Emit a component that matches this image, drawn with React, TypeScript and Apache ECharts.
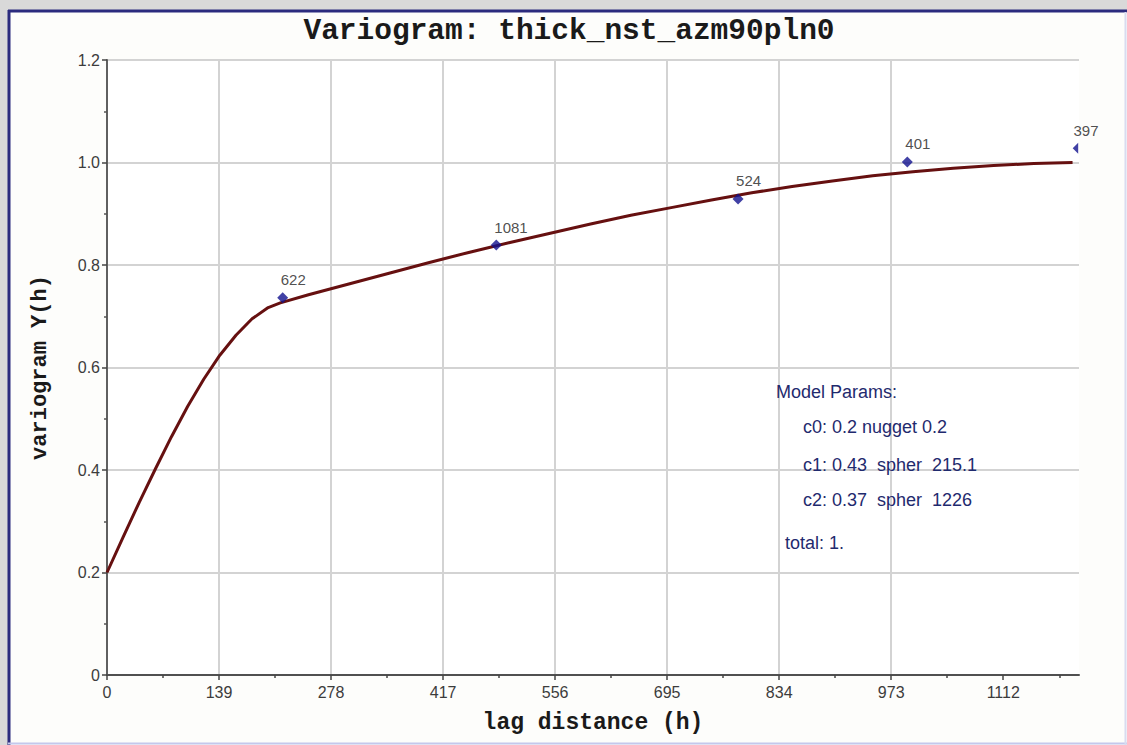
import React, { useEffect, useRef } from "react";
import * as echarts from "echarts";

const titleText = "Variogram: thick_nst_azm90pln0";
const xName = "lag distance (h)";
const yName = "variogram Y(h)";

const xTicks = [0, 139, 278, 417, 556, 695, 834, 973, 1112];
const xMinorTicks = [69.5, 208.5, 347.5, 486.5, 625.5, 764.5, 903.5, 1042.5, 1181.5];
const xMax = 1206;
const yMax = 1.2;
const yInterval = 0.2;

// model curve
const curveLag = [0, 20, 40, 60, 80, 100, 120, 140, 160, 180, 200, 215, 250, 300, 350, 400, 450, 500, 550, 600, 650, 700, 750, 800, 850, 900, 950, 1000, 1050, 1100, 1150, 1198];
const curveGamma = [0.2, 0.269, 0.337, 0.402, 0.465, 0.524, 0.577, 0.624, 0.663, 0.695, 0.717, 0.726, 0.742, 0.763, 0.784, 0.805, 0.825, 0.844, 0.862, 0.88, 0.897, 0.912, 0.927, 0.941, 0.953, 0.964, 0.974, 0.982, 0.989, 0.994, 0.998, 1.0];

// experimental points
const pointLag = [218, 483, 783, 993, 1205];
const pointGamma = [0.736, 0.839, 0.929, 1.001, 1.028];
const pointPairs = [622, 1081, 524, 401, 397];

const paramLines = [
  { text: "Model Params:", x: 776, y: 392 },
  { text: "c0: 0.2 nugget 0.2", x: 803, y: 427 },
  { text: "c1: 0.43  spher  215.1", x: 803, y: 465 },
  { text: "c2: 0.37  spher  1226", x: 803, y: 500 },
  { text: "total: 1.", x: 785, y: 543 },
];

export default function App() {
  const ref = useRef<HTMLDivElement>(null);

  useEffect(() => {
    if (!ref.current) return;
    const chart = echarts.init(ref.current, null, { renderer: "svg" });

    const curveData = curveLag.map((h, i) => [h, curveGamma[i]]);
    const lastIdx = pointLag.length - 1;
    const pointData = pointLag.map((h, i) => {
      const item: any = { value: [h, pointGamma[i], pointPairs[i]] };
      if (i === lastIdx) {
        item.symbol = "path://M1 0 L0 1 L1 2 Z";
        item.symbolSize = [5.5, 11];
        item.symbolOffset = [-2.75, 0];
      }
      return item;
    });

    const navy = "#1f2a6e";
    const sans = "'Liberation Sans', Arial, sans-serif";
    const mono = "'Liberation Mono', 'DejaVu Sans Mono', monospace";

    const option: any = {
      animation: false,
      backgroundColor: "#fdfdfb",
      grid: { left: 107, right: 48, top: 60, bottom: 70, containLabel: false, show: true, backgroundColor: "#ffffff", borderWidth: 0 },
      graphic: [
        { type: "rect", z: -10, silent: true, shape: { x: 0, y: 0, width: 1127, height: 10 }, style: { fill: "#d9d9d9" } },
        { type: "rect", z: -10, silent: true, shape: { x: 0, y: 0, width: 8, height: 745 }, style: { fill: "#d9d9d9" } },
        { type: "line", z: -5, silent: true, shape: { x1: 8, y1: 11, x2: 1127, y2: 11 }, style: { stroke: "#2b2b7e", lineWidth: 3 } },
        { type: "line", z: -5, silent: true, shape: { x1: 9, y1: 10, x2: 9, y2: 745 }, style: { stroke: "#2b2b7e", lineWidth: 3 } },
        { type: "line", z: -5, silent: true, shape: { x1: 8, y1: 743.5, x2: 1127, y2: 743.5 }, style: { stroke: "#c4c8ec", lineWidth: 2 } },
        { type: "line", z: -5, silent: true, shape: { x1: 1125.5, y1: 12, x2: 1125.5, y2: 745 }, style: { stroke: "#d8dcf0", lineWidth: 2 } },
        {
          type: "text",
          x: 569,
          y: 31,
          style: {
            text: titleText,
            fontFamily: mono,
            fontWeight: "bold",
            fontSize: 29.5,
            fill: "#1a1a1a",
            textAlign: "center",
            textVerticalAlign: "middle",
          },
        },
        ...paramLines.map((p) => ({
          type: "text",
          x: p.x,
          y: p.y,
          z: 10,
          style: {
            text: p.text,
            fontFamily: sans,
            fontSize: 18,
            fill: navy,
            textAlign: "left",
            textVerticalAlign: "middle",
          },
        })),
      ],
      xAxis: [
        {
          type: "value",
          min: 0,
          max: xMax,
          interval: 139,
          position: "bottom",
          name: xName,
          nameLocation: "middle",
          nameGap: 36,
          nameTextStyle: { fontFamily: mono, fontWeight: "bold", fontSize: 23, color: "#1a1a1a" },
          axisLine: { show: true, onZero: false, lineStyle: { color: "#505050", width: 2 } },
          axisTick: { show: true, customValues: xTicks, length: 5, lineStyle: { color: "#444", width: 1.5 } },
          axisLabel: {
            customValues: xTicks,
            fontFamily: sans,
            fontSize: 16,
            color: "#3c3c3c",
            margin: 9,
            formatter: (v: number) => String(v),
          },
          splitLine: { show: true, showMinLine: false, showMaxLine: false, lineStyle: { color: "#d3d3d3", width: 2 } },
        },
        {
          type: "value",
          min: 0,
          max: xMax,
          interval: 69.5,
          position: "bottom",
          axisLine: { show: false, onZero: false },
          axisTick: { show: true, customValues: xMinorTicks, length: 3, lineStyle: { color: "#444", width: 1.5 } },
          axisLabel: { show: false },
          splitLine: { show: false },
        },
      ],
      yAxis: {
        type: "value",
        min: 0,
        max: yMax,
        interval: yInterval,
        name: yName,
        nameLocation: "middle",
        nameGap: 56,
        nameTextStyle: { fontFamily: mono, fontWeight: "bold", fontSize: 22, color: "#1a1a1a" },
        axisLine: { show: true, lineStyle: { color: "#606060", width: 2 } },
        axisTick: { show: true, length: 5, lineStyle: { color: "#444", width: 1.5 } },
        minorTick: { show: true, splitNumber: 2, length: 3, lineStyle: { color: "#555", width: 1.5 } },
        axisLabel: {
          fontFamily: sans,
          fontSize: 16,
          color: "#3c3c3c",
          margin: 7,
          formatter: (v: number) => (v === 0 ? "0" : v.toFixed(1)),
        },
        splitLine: { show: true, showMinLine: false, lineStyle: { color: "#d3d3d3", width: 2 } },
      },
      series: [
        {
          type: "line",
          name: "model",
          xAxisIndex: 0,
          data: curveData,
          showSymbol: false,
          smooth: false,
          lineStyle: { color: "#661010", width: 3 },
          z: 2,
        },
        {
          type: "scatter",
          name: "experimental",
          xAxisIndex: 0,
          data: pointData,
          symbol: "diamond",
          symbolSize: 11,
          itemStyle: { color: "#12128e" },
          clip: false,
          z: 3,
          label: {
            show: true,
            position: "top",
            distance: 5,
            align: "left",
            offset: [-2, 0],
            fontFamily: sans,
            fontSize: 15,
            color: "#222",
            formatter: (p: any) => String(p.value[2]),
          },
        },
      ],
    };

    chart.setOption(option);
    return () => chart.dispose();
  }, []);

  return (
    <div
      ref={ref}
      style={{ position: "fixed", left: 0, top: 0, width: 1127, height: 745 }}
    />
  );
}
